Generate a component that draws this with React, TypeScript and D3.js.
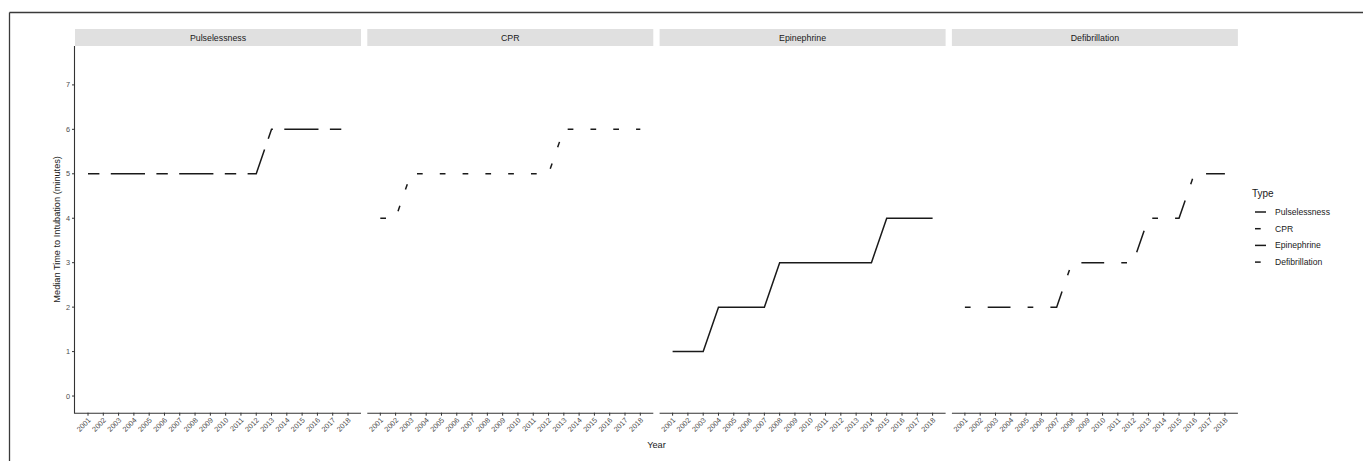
import React from "react";
import * as d3 from "d3";

const years = [2001, 2002, 2003, 2004, 2005, 2006, 2007, 2008, 2009, 2010, 2011, 2012, 2013, 2014, 2015, 2016, 2017, 2018];
const types = ["Pulselessness", "CPR", "Epinephrine", "Defibrillation"];
const pulselessness = [5, 5, 5, 5, 5, 5, 5, 5, 5, 5, 5, 5, 6, 6, 6, 6, 6, 6];
const cpr = [4, 4, 5, 5, 5, 5, 5, 5, 5, 5, 5, 5, 6, 6, 6, 6, 6, 6];
const epinephrine = [1, 1, 1, 2, 2, 2, 2, 3, 3, 3, 3, 3, 3, 3, 4, 4, 4, 4];
const defibrillation = [2, 2, 2, 2, 2, 2, 2, 3, 3, 3, 3, 3, 4, 4, 4, 5, 5, 5];
const yTicks = [0, 1, 2, 3, 4, 5, 6, 7];

const seriesValues = [pulselessness, cpr, epinephrine, defibrillation];
const U = 5.7;
const dashes = [
  [2, 2, 6, 2].map((d) => d * U).join(" "),
  [1, 3].map((d) => d * U).join(" "),
  "none",
  [1, 3, 4, 3].map((d) => d * U).join(" "),
];

const FONT = "Liberation Sans, Arial, Helvetica, sans-serif";
const W = 1363;
const H = 461;
const panelX0 = 75;
const panelW = 286;
const pitch = 292.3;
const top = 46;
const bottom = 412.7;
const stripTop = 29;

export default function App() {
  const y = d3.scaleLinear().domain([-0.375, 7.875]).range([bottom, top]);
  const xFor = (i: number) =>
    d3.scaleLinear().domain([2001 - 0.85, 2018 + 0.85]).range([panelX0 + i * pitch, panelX0 + i * pitch + panelW]);
  const line = (x: d3.ScaleLinear<number, number>) =>
    d3
      .line<number>()
      .x((_, k) => x(years[k]))
      .y((v) => y(v));

  return (
    <svg width={W} height={H} style={{ position: "absolute", left: 0, top: 0, background: "#fff" }} fontFamily={FONT}>
      <rect x={0} y={0} width={W} height={H} fill="#fff" />
      {/* outer frame */}
      <line x1={9.5} y1={12.5} x2={W} y2={12.5} stroke="#3a3a3a" strokeWidth={1.3} />
      <line x1={9.5} y1={12.5} x2={9.5} y2={H} stroke="#3a3a3a" strokeWidth={1.3} />

      {types.map((t, i) => {
        const x = xFor(i);
        const x0 = panelX0 + i * pitch;
        return (
          <g key={t}>
            <rect x={x0} y={stripTop} width={panelW} height={top - stripTop} fill="#e0e0e0" />
            <text x={x0 + panelW / 2} y={(stripTop + top) / 2 + 3} textAnchor="middle" fontSize={8.8} fill="#1a1a1a">
              {t}
            </text>
            <path
              d={line(x)(seriesValues[i]) || ""}
              fill="none"
              stroke="#1a1a1a"
              strokeWidth={1.5}
              strokeDasharray={dashes[i]}
              strokeLinecap="butt"
            />
            <line x1={x0} x2={x0 + panelW} y1={bottom + 0.5} y2={bottom + 0.5} stroke="#333" strokeWidth={1.1} />
            {years.map((yr) => (
              <g key={yr}>
                <line x1={x(yr)} x2={x(yr)} y1={bottom} y2={bottom + 3} stroke="#333" strokeWidth={1} />
                <text
                  transform={`translate(${x(yr) + 3.2},${bottom + 8}) rotate(-45)`}
                  textAnchor="end"
                  fontSize={7.3}
                  fill="#4d4d4d"
                >
                  {yr}
                </text>
              </g>
            ))}
          </g>
        );
      })}

      {/* y axis */}
      <line x1={panelX0 - 0.5} x2={panelX0 - 0.5} y1={top} y2={bottom + 1} stroke="#333" strokeWidth={1.1} />
      {yTicks.map((v) => (
        <g key={v}>
          <line x1={panelX0 - 3} x2={panelX0} y1={y(v)} y2={y(v)} stroke="#333" strokeWidth={1} />
          <text x={panelX0 - 5} y={y(v) + 2.6} textAnchor="end" fontSize={7.3} fill="#4d4d4d">
            {v}
          </text>
        </g>
      ))}
      <text
        transform={`translate(60,${(top + bottom) / 2}) rotate(-90)`}
        textAnchor="middle"
        fontSize={9.2}
        fill="#1a1a1a"
      >
        Median Time to Intubation (minutes)
      </text>
      <text x={(panelX0 + panelX0 + 3 * pitch + panelW) / 2} y={448} textAnchor="middle" fontSize={9.2} fill="#1a1a1a">
        Year
      </text>

      {/* legend */}
      <text x={1252} y={197} fontSize={10} fill="#1a1a1a">
        Type
      </text>
      {types.map((t, i) => {
        const ly = 212 + i * 16.7;
        return (
          <g key={t}>
            <line
              x1={1255}
              x2={1266}
              y1={ly}
              y2={ly}
              stroke="#1a1a1a"
              strokeWidth={1.5}
              strokeDasharray={dashes[i]}
            />
            <text x={1275} y={ly + 3} fontSize={8.6} fill="#1a1a1a">
              {t}
            </text>
          </g>
        );
      })}
    </svg>
  );
}
